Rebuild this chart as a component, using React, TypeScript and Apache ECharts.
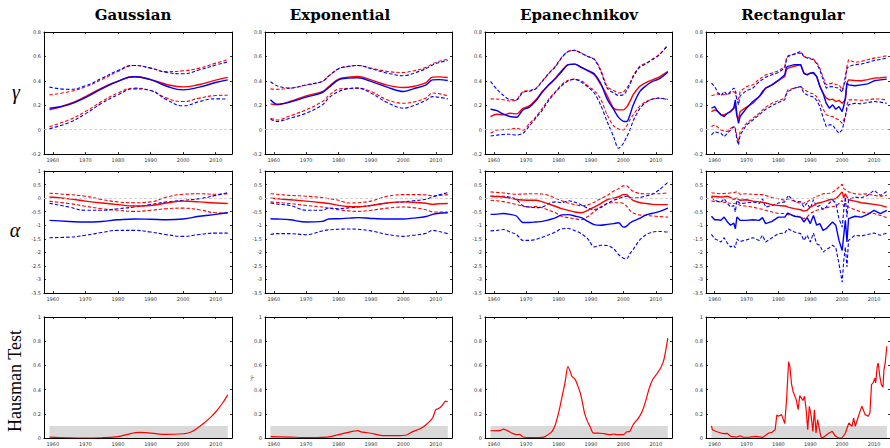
import React, { useEffect, useRef } from "react";
import * as echarts from "echarts";

// ---------- axes ----------
const X_MIN = 1957.3;
const X_MAX = 2015;
const xTicks = [1960, 1970, 1980, 1990, 2000, 2010];
const gammaAxis = { min: -0.2, max: 0.8, interval: 0.2 };
const alphaAxis = { min: -3.5, max: 1, interval: 0.5 };
const hausAxis = { min: 0, max: 1, interval: 0.2 };
const hausBand = 0.1;

const kernelTitles = ["Gaussian", "Exponential", "Epanechnikov", "Rectangular"];
const rowLabels = ["γ", "α", "Hausman Test"];

// ---------- Gaussian ----------
const gaussYears = [1959, 1965, 1970, 1975, 1980, 1985, 1990, 1995, 2000, 2005, 2010, 2013.7];
const gaussGammaRed = [0.162, 0.21, 0.27, 0.34, 0.398, 0.433, 0.41, 0.37, 0.35, 0.37, 0.405, 0.428];
const gaussGammaRedHi = [0.285, 0.31, 0.35, 0.41, 0.477, 0.526, 0.504, 0.475, 0.482, 0.504, 0.545, 0.573];
const gaussGammaRedLo = [0.025, 0.08, 0.148, 0.23, 0.3, 0.34, 0.32, 0.258, 0.23, 0.258, 0.279, 0.282];
const gaussGammaBlue = [0.175, 0.205, 0.263, 0.333, 0.395, 0.433, 0.41, 0.355, 0.326, 0.348, 0.386, 0.408];
const gaussGammaBlueHi = [0.348, 0.33, 0.359, 0.42, 0.485, 0.526, 0.504, 0.468, 0.458, 0.49, 0.529, 0.555];
const gaussGammaBlueLo = [0.008, 0.058, 0.129, 0.216, 0.285, 0.334, 0.32, 0.244, 0.195, 0.23, 0.252, 0.25];

const gaussAlphaRed = [0.04, -0.03, -0.11, -0.18, -0.24, -0.29, -0.27, -0.18, -0.11, -0.14, -0.18, -0.2];
const gaussAlphaRedHi = [0.18, 0.13, 0.07, -0.05, -0.14, -0.17, -0.14, 0.04, 0.14, 0.16, 0.14, 0.16];
const gaussAlphaRedLo = [-0.12, -0.2, -0.3, -0.39, -0.45, -0.49, -0.45, -0.39, -0.37, -0.43, -0.54, -0.55];
const gaussAlphaBlue = [-0.82, -0.86, -0.88, -0.86, -0.8, -0.77, -0.78, -0.8, -0.77, -0.67, -0.6, -0.54];
const gaussAlphaBlueHi = [-0.19, -0.33, -0.45, -0.45, -0.39, -0.33, -0.24, -0.14, -0.08, -0.02, 0.1, 0.2];
const gaussAlphaBlueLo = [-1.46, -1.44, -1.37, -1.27, -1.19, -1.19, -1.25, -1.35, -1.41, -1.34, -1.29, -1.29];

const gaussHausYears = [1959, 1965, 1970, 1975, 1980, 1983, 1986.5, 1990, 1995, 2000, 2002, 2004, 2006, 2008, 2010, 2012, 2013.7];
const gaussHaus = [0.008, 0.002, 0, 0.002, 0.012, 0.03, 0.047, 0.04, 0.03, 0.035, 0.045, 0.075, 0.115, 0.16, 0.215, 0.285, 0.356];

// ---------- Exponential ----------
const expYears = [1959, 1961, 1965, 1970, 1975, 1977, 1980, 1983, 1986, 1990, 1995, 2000, 2003, 2007, 2009, 2011, 2013.7];
const expGammaRed = [0.211, 0.203, 0.23, 0.277, 0.312, 0.353, 0.414, 0.43, 0.436, 0.408, 0.364, 0.345, 0.353, 0.386, 0.43, 0.432, 0.427];
const expGammaRedHi = [0.334, 0.33, 0.34, 0.364, 0.395, 0.44, 0.499, 0.518, 0.526, 0.504, 0.477, 0.468, 0.48, 0.51, 0.54, 0.56, 0.578];
const expGammaRedLo = [0.093, 0.079, 0.112, 0.162, 0.23, 0.28, 0.332, 0.338, 0.34, 0.312, 0.244, 0.216, 0.225, 0.26, 0.3, 0.295, 0.277];
const expGammaBlue = [0.244, 0.208, 0.225, 0.266, 0.304, 0.345, 0.408, 0.422, 0.425, 0.395, 0.348, 0.312, 0.334, 0.367, 0.408, 0.41, 0.403];
const expGammaBlueHi = [0.392, 0.36, 0.34, 0.367, 0.395, 0.44, 0.499, 0.518, 0.526, 0.499, 0.463, 0.441, 0.46, 0.5, 0.53, 0.55, 0.567];
const expGammaBlueLo = [0.085, 0.066, 0.093, 0.134, 0.203, 0.26, 0.312, 0.335, 0.34, 0.299, 0.222, 0.175, 0.195, 0.24, 0.27, 0.265, 0.252];

const expAlphaRed = [0, -0.02, -0.06, -0.11, -0.17, -0.2, -0.27, -0.31, -0.32, -0.27, -0.18, -0.14, -0.15, -0.19, -0.23, -0.21, -0.2];
const expAlphaRedHi = [0.16, 0.14, 0.1, 0.07, 0.02, -0.02, -0.08, -0.18, -0.17, -0.11, 0.07, 0.13, 0.13, 0.12, 0.08, 0.1, 0.13];
const expAlphaRedLo = [-0.14, -0.16, -0.2, -0.27, -0.33, -0.37, -0.43, -0.47, -0.49, -0.45, -0.37, -0.33, -0.35, -0.43, -0.51, -0.51, -0.51];
const expAlphaBlue = [-0.76, -0.77, -0.8, -0.88, -0.86, -0.77, -0.76, -0.74, -0.72, -0.75, -0.77, -0.77, -0.74, -0.68, -0.6, -0.56, -0.54];
const expAlphaBlueHi = [-0.18, -0.22, -0.27, -0.45, -0.45, -0.37, -0.39, -0.36, -0.33, -0.27, -0.18, -0.14, -0.1, -0.04, 0.04, 0.12, 0.2];
const expAlphaBlueLo = [-1.34, -1.31, -1.31, -1.35, -1.21, -1.17, -1.15, -1.14, -1.15, -1.21, -1.34, -1.41, -1.37, -1.3, -1.19, -1.23, -1.31];

const expHausYears = [1959, 1965, 1970, 1975, 1978, 1980, 1983, 1986, 1987, 1990, 1994, 1998, 2001, 2003, 2005, 2007, 2009, 2010, 2011, 2012, 2013, 2013.7];
const expHaus = [0.011, 0.008, 0.003, 0.005, 0.014, 0.028, 0.047, 0.061, 0.05, 0.039, 0.019, 0.019, 0.025, 0.055, 0.074, 0.11, 0.165, 0.235, 0.245, 0.27, 0.305, 0.3];

// ---------- Epanechnikov ----------
const epaYears = [1959, 1961, 1963, 1965, 1967, 1969, 1971, 1973, 1975, 1977, 1979, 1981, 1983, 1985, 1987, 1989, 1991, 1993, 1995, 1997, 1998.5, 2000, 2001, 2002, 2003, 2005, 2007, 2009, 2011, 2013.7];
const epaGammaRed = [0.107, 0.126, 0.121, 0.134, 0.129, 0.175, 0.195, 0.244, 0.312, 0.367, 0.422, 0.485, 0.532, 0.537, 0.51, 0.482, 0.449, 0.37, 0.277, 0.175, 0.162, 0.162, 0.184, 0.23, 0.285, 0.353, 0.386, 0.408, 0.43, 0.477];
const epaGammaRedHi = [0.252, 0.25, 0.245, 0.235, 0.244, 0.312, 0.32, 0.34, 0.4, 0.463, 0.518, 0.595, 0.641, 0.649, 0.627, 0.6, 0.578, 0.49, 0.353, 0.32, 0.3, 0.31, 0.34, 0.38, 0.441, 0.518, 0.545, 0.578, 0.614, 0.688];
const epaGammaRedLo = [-0.03, -0.003, 0, 0.003, 0.011, -0.005, 0.05, 0.105, 0.175, 0.25, 0.31, 0.37, 0.405, 0.414, 0.4, 0.36, 0.32, 0.25, 0.12, 0.03, 0.005, -0.003, 0.03, 0.079, 0.12, 0.19, 0.23, 0.25, 0.258, 0.244];
const epaGammaBlue = [0.167, 0.156, 0.126, 0.107, 0.101, 0.162, 0.184, 0.236, 0.307, 0.367, 0.416, 0.477, 0.532, 0.537, 0.51, 0.485, 0.458, 0.38, 0.25, 0.165, 0.1, 0.068, 0.066, 0.12, 0.2, 0.31, 0.36, 0.395, 0.415, 0.47];
const epaGammaBlueHi = [0.395, 0.33, 0.28, 0.245, 0.244, 0.305, 0.315, 0.335, 0.395, 0.46, 0.515, 0.59, 0.641, 0.649, 0.627, 0.6, 0.575, 0.48, 0.34, 0.3, 0.28, 0.285, 0.32, 0.37, 0.43, 0.51, 0.54, 0.575, 0.61, 0.695];
const epaGammaBlueLo = [-0.052, -0.045, -0.04, -0.038, -0.045, -0.03, 0.03, 0.095, 0.16, 0.24, 0.305, 0.36, 0.4, 0.412, 0.39, 0.35, 0.3, 0.2, 0.065, -0.06, -0.153, -0.112, -0.06, -0.003, 0.07, 0.17, 0.224, 0.25, 0.258, 0.249];

const epaAlphaRed = [0.07, 0.06, 0.04, 0, -0.05, -0.07, -0.08, -0.08, -0.14, -0.22, -0.3, -0.39, -0.45, -0.51, -0.54, -0.45, -0.33, -0.2, -0.06, 0, 0.05, 0.13, 0.13, 0.01, -0.08, -0.16, -0.2, -0.23, -0.24, -0.24];
const epaAlphaRedHi = [0.23, 0.21, 0.19, 0.16, 0.14, 0.15, 0.16, 0.16, 0.15, 0.1, 0, -0.1, -0.18, -0.24, -0.28, -0.25, -0.15, -0.02, 0.1, 0.26, 0.35, 0.45, 0.45, 0.35, 0.25, 0.17, 0.16, 0.16, 0.16, 0.2];
const epaAlphaRedLo = [-0.08, -0.1, -0.13, -0.18, -0.23, -0.3, -0.33, -0.31, -0.36, -0.45, -0.54, -0.67, -0.72, -0.76, -0.8, -0.68, -0.5, -0.33, -0.2, -0.17, -0.17, -0.2, -0.3, -0.45, -0.55, -0.62, -0.64, -0.66, -0.68, -0.7];
const epaAlphaBlue = [-0.6, -0.59, -0.57, -0.6, -0.66, -0.9, -0.9, -0.88, -0.86, -0.8, -0.73, -0.62, -0.61, -0.66, -0.72, -0.86, -0.98, -1.0, -0.97, -0.94, -0.91, -1.07, -1.03, -0.92, -0.85, -0.75, -0.62, -0.56, -0.5, -0.37];
const epaAlphaBlueHi = [0.07, 0.07, 0.07, 0.03, -0.05, -0.28, -0.33, -0.35, -0.33, -0.2, -0.14, -0.17, -0.1, -0.15, -0.25, -0.37, -0.42, -0.35, -0.2, -0.08, -0.02, 0.04, 0.07, 0.02, 0, 0.02, 0.08, 0.15, 0.3, 0.58];
const epaAlphaBlueLo = [-1.21, -1.19, -1.16, -1.25, -1.34, -1.56, -1.56, -1.52, -1.44, -1.35, -1.25, -1.13, -1.12, -1.2, -1.31, -1.5, -1.8, -1.74, -1.75, -1.87, -2.08, -2.22, -2.24, -2.05, -1.9, -1.55, -1.35, -1.25, -1.23, -1.25];

const epaHausYears = [1959, 1962, 1963, 1964, 1966, 1967, 1968, 1969, 1972, 1975, 1976, 1978, 1979, 1980, 1981, 1982, 1982.9, 1983.6, 1984.1, 1985.1, 1985.8, 1986.7, 1987.4, 1988, 1988.7, 1989.7, 1990.8, 1992, 1994, 1996, 1997, 1998, 2000, 2001, 2002, 2003, 2004, 2005, 2006, 2007, 2008, 2009, 2010.5, 2011.5, 2012.5, 2013.7];
const epaHaus = [0.06, 0.063, 0.074, 0.063, 0.036, 0.028, 0.03, 0.008, 0.003, 0.005, 0.015, 0.055, 0.11, 0.207, 0.331, 0.46, 0.59, 0.55, 0.51, 0.485, 0.44, 0.372, 0.289, 0.207, 0.152, 0.096, 0.041, 0.041, 0.036, 0.028, 0.033, 0.028, 0.028, 0.05, 0.055, 0.11, 0.143, 0.179, 0.234, 0.317, 0.413, 0.482, 0.537, 0.579, 0.647, 0.826];

// ---------- Rectangular ----------
const recYears = [1959, 1960, 1961, 1962, 1963, 1964, 1965, 1966, 1966.5, 1967, 1967.5, 1968, 1970, 1972, 1974, 1975, 1976, 1978, 1980, 1982, 1982.5, 1983, 1985, 1987, 1988, 1989, 1990, 1991, 1992, 1993, 1994, 1995, 1996, 1997, 1998, 1999, 2000, 2000.5, 2001, 2001.5, 2002, 2004, 2006, 2008, 2010, 2012, 2014];
const recGammaRed = [0.148, 0.162, 0.15, 0.121, 0.12, 0.134, 0.15, 0.175, 0.2, 0.107, 0.09, 0.148, 0.184, 0.216, 0.271, 0.3, 0.34, 0.367, 0.403, 0.436, 0.49, 0.504, 0.518, 0.532, 0.46, 0.45, 0.463, 0.46, 0.436, 0.36, 0.299, 0.26, 0.244, 0.25, 0.23, 0.24, 0.216, 0.23, 0.244, 0.38, 0.408, 0.403, 0.4, 0.41, 0.422, 0.425, 0.43];
const recGammaRedHi = [0.277, 0.285, 0.293, 0.29, 0.285, 0.29, 0.299, 0.312, 0.3, 0.244, 0.25, 0.312, 0.353, 0.367, 0.414, 0.43, 0.449, 0.463, 0.482, 0.518, 0.58, 0.605, 0.619, 0.627, 0.6, 0.595, 0.585, 0.578, 0.55, 0.504, 0.43, 0.367, 0.375, 0.381, 0.37, 0.367, 0.326, 0.36, 0.395, 0.52, 0.573, 0.551, 0.559, 0.573, 0.586, 0.595, 0.605];
const recGammaRedLo = [0.025, 0.038, 0.02, -0.003, -0.01, -0.016, 0.01, 0.025, 0.01, -0.058, -0.099, -0.016, 0.052, 0.093, 0.134, 0.16, 0.184, 0.216, 0.236, 0.258, 0.3, 0.326, 0.34, 0.353, 0.33, 0.312, 0.3, 0.293, 0.27, 0.23, 0.17, 0.121, 0.11, 0.107, 0.09, 0.079, 0.052, 0.08, 0.107, 0.2, 0.244, 0.244, 0.24, 0.244, 0.252, 0.25, 0.244];
const recGammaBlue = [0.175, 0.189, 0.148, 0.121, 0.107, 0.134, 0.148, 0.175, 0.244, 0.121, 0.052, 0.107, 0.175, 0.23, 0.271, 0.312, 0.34, 0.367, 0.403, 0.449, 0.51, 0.518, 0.532, 0.532, 0.463, 0.449, 0.463, 0.468, 0.436, 0.353, 0.299, 0.216, 0.175, 0.203, 0.167, 0.189, 0.148, 0.195, 0.258, 0.381, 0.367, 0.359, 0.367, 0.375, 0.4, 0.408, 0.414];
const recGammaBlueHi = [0.381, 0.353, 0.304, 0.277, 0.312, 0.285, 0.312, 0.34, 0.33, 0.244, 0.203, 0.277, 0.32, 0.34, 0.395, 0.41, 0.43, 0.449, 0.468, 0.504, 0.57, 0.6, 0.62, 0.641, 0.6, 0.586, 0.58, 0.573, 0.54, 0.49, 0.41, 0.34, 0.35, 0.353, 0.345, 0.34, 0.304, 0.36, 0.436, 0.5, 0.518, 0.532, 0.537, 0.551, 0.567, 0.575, 0.586];
const recGammaBlueLo = [-0.044, -0.016, -0.025, -0.03, -0.058, -0.03, -0.003, 0.025, 0, -0.085, -0.126, -0.044, 0.038, 0.079, 0.121, 0.145, 0.167, 0.197, 0.222, 0.244, 0.29, 0.312, 0.34, 0.353, 0.3, 0.285, 0.275, 0.266, 0.24, 0.189, 0.1, 0.025, 0.04, 0.038, 0, -0.03, -0.003, 0.05, 0.107, 0.17, 0.203, 0.216, 0.211, 0.222, 0.23, 0.225, 0.216];

const recAlphaRed = [0.07, 0.06, 0.05, 0.04, 0.05, 0.07, 0.02, -0.05, -0.02, 0, -0.05, -0.08, -0.06, -0.11, -0.14, -0.15, -0.18, -0.24, -0.27, -0.29, -0.3, -0.33, -0.39, -0.43, -0.48, -0.45, -0.33, -0.28, -0.2, -0.17, -0.14, -0.1, -0.06, -0.04, -0.02, 0.1, 0.23, 0.01, 0.16, 0.05, -0.06, -0.11, -0.17, -0.2, -0.23, -0.27, -0.33];
const recAlphaRedHi = [0.2, 0.18, 0.17, 0.16, 0.17, 0.18, 0.19, 0.2, 0.22, 0.23, 0.2, 0.14, 0.16, 0.14, 0.13, 0.13, 0.1, 0.02, -0.02, -0.08, -0.05, -0.02, -0.11, -0.2, -0.18, -0.14, -0.06, 0, 0.07, 0.1, 0.16, 0.17, 0.18, 0.22, 0.29, 0.41, 0.51, 0.35, 0.31, 0.28, 0.23, 0.16, 0.14, 0.16, 0.1, 0.07, 0.1];
const recAlphaRedLo = [-0.11, -0.12, -0.13, -0.14, -0.15, -0.18, -0.19, -0.2, -0.19, -0.17, -0.22, -0.27, -0.3, -0.33, -0.39, -0.41, -0.45, -0.51, -0.57, -0.57, -0.58, -0.61, -0.64, -0.7, -0.76, -0.7, -0.57, -0.5, -0.45, -0.42, -0.39, -0.36, -0.33, -0.31, -0.3, -0.2, -0.08, -0.33, -0.18, -0.3, -0.33, -0.43, -0.51, -0.55, -0.57, -0.64, -0.72];
const recAlphaBlue = [-0.67, -0.8, -0.8, -0.82, -0.7, -0.88, -1.0, -0.92, -1.13, -0.7, -0.75, -0.82, -0.82, -0.8, -0.82, -0.72, -0.94, -0.86, -0.7, -0.7, -0.62, -0.55, -0.67, -0.7, -0.88, -0.72, -0.94, -0.64, -1.0, -0.94, -1.19, -1.13, -1.0, -0.88, -1.0, -1.56, -1.93, -1.37, -0.82, -1.62, -0.76, -0.67, -0.7, -0.6, -0.45, -0.57, -0.45];
const recAlphaBlueHi = [0.04, -0.08, -0.12, -0.14, -0.02, -0.2, -0.33, -0.27, -0.51, -0.08, -0.15, -0.2, -0.18, -0.14, -0.2, -0.02, -0.33, -0.27, -0.18, -0.14, -0.05, 0.1, -0.11, -0.14, -0.33, -0.18, -0.39, -0.06, -0.33, -0.27, -0.43, -0.33, -0.18, -0.08, -0.18, -0.76, -1.07, -0.45, 0.04, -0.7, -0.06, 0.04, 0.01, 0.1, 0.29, 0.1, 0.25];
const recAlphaBlueLo = [-1.34, -1.5, -1.55, -1.62, -1.46, -1.66, -1.8, -1.74, -1.83, -1.5, -1.56, -1.6, -1.54, -1.46, -1.56, -1.37, -1.62, -1.46, -1.31, -1.29, -1.2, -1.13, -1.25, -1.31, -1.56, -1.37, -1.62, -1.29, -1.68, -1.74, -1.99, -1.9, -1.83, -1.74, -1.83, -2.42, -3.1, -2.3, -1.8, -2.54, -1.56, -1.37, -1.4, -1.34, -1.29, -1.37, -1.29];

const recHausYears = [1959, 1959.3, 1960, 1961, 1962, 1963, 1964, 1965, 1967, 1968, 1969, 1971, 1973, 1975, 1976, 1977, 1978, 1979, 1979.5, 1980, 1981, 1982, 1982.6, 1983.2, 1983.6, 1984.1, 1984.6, 1985.6, 1986.2, 1986.7, 1987.7, 1988.2, 1988.7, 1989.2, 1989.7, 1990.3, 1990.8, 1991.3, 1991.8, 1992.3, 1993.3, 1993.8, 1995.9, 1996.9, 1997.9, 1999, 2000, 2001, 2002.1, 2003.1, 2003.6, 2004.1, 2004.6, 2005.6, 2006.2, 2007.2, 2008.2, 2008.7, 2009.2, 2009.7, 2010.3, 2010.5, 2011, 2011.3, 2011.8, 2012.3, 2012.8, 2013.1, 2013.5, 2014];
const recHaus = [0.1, 0.069, 0.06, 0.05, 0.041, 0.036, 0.038, 0.014, 0.008, 0.019, 0.006, 0.008, 0.014, 0.005, 0.022, 0.041, 0.047, 0.069, 0.19, 0.18, 0.193, 0.12, 0.33, 0.63, 0.59, 0.45, 0.385, 0.317, 0.234, 0.35, 0.31, 0.345, 0.234, 0.069, 0.262, 0.179, 0.055, 0.234, 0.041, 0.152, 0.014, 0, 0.041, 0.055, 0.014, 0, 0, 0.041, 0.124, 0.096, 0.165, 0.096, 0.138, 0.22, 0.262, 0.193, 0.179, 0.207, 0.441, 0.455, 0.496, 0.455, 0.592, 0.62, 0.51, 0.441, 0.42, 0.565, 0.62, 0.758];

// ---------- layout ----------
const colLeft = [44, 265, 485, 706];
const colWidth = [188, 187, 187, 187];
const rowTop = [32, 171, 317];
const rowHeight = [122, 122, 121];
const titleX = [133, 340, 579, 793];

const RED = "#ff0000";
const BLUE = "#0000ff";

type BandPanel = {
  kind: "band";
  years: number[];
  red: number[];
  redHi: number[];
  redLo: number[];
  blue: number[];
  blueHi: number[];
  blueLo: number[];
  smooth: number | boolean;
};
type HausPanel = { kind: "haus"; years: number[]; values: number[]; smooth: number | boolean };

const panels: (BandPanel | HausPanel)[][] = [
  [
    { kind: "band", years: gaussYears, red: gaussGammaRed, redHi: gaussGammaRedHi, redLo: gaussGammaRedLo, blue: gaussGammaBlue, blueHi: gaussGammaBlueHi, blueLo: gaussGammaBlueLo, smooth: 0.5 },
    { kind: "band", years: expYears, red: expGammaRed, redHi: expGammaRedHi, redLo: expGammaRedLo, blue: expGammaBlue, blueHi: expGammaBlueHi, blueLo: expGammaBlueLo, smooth: 0.35 },
    { kind: "band", years: epaYears, red: epaGammaRed, redHi: epaGammaRedHi, redLo: epaGammaRedLo, blue: epaGammaBlue, blueHi: epaGammaBlueHi, blueLo: epaGammaBlueLo, smooth: 0.3 },
    { kind: "band", years: recYears, red: recGammaRed, redHi: recGammaRedHi, redLo: recGammaRedLo, blue: recGammaBlue, blueHi: recGammaBlueHi, blueLo: recGammaBlueLo, smooth: false },
  ],
  [
    { kind: "band", years: gaussYears, red: gaussAlphaRed, redHi: gaussAlphaRedHi, redLo: gaussAlphaRedLo, blue: gaussAlphaBlue, blueHi: gaussAlphaBlueHi, blueLo: gaussAlphaBlueLo, smooth: 0.5 },
    { kind: "band", years: expYears, red: expAlphaRed, redHi: expAlphaRedHi, redLo: expAlphaRedLo, blue: expAlphaBlue, blueHi: expAlphaBlueHi, blueLo: expAlphaBlueLo, smooth: 0.35 },
    { kind: "band", years: epaYears, red: epaAlphaRed, redHi: epaAlphaRedHi, redLo: epaAlphaRedLo, blue: epaAlphaBlue, blueHi: epaAlphaBlueHi, blueLo: epaAlphaBlueLo, smooth: 0.3 },
    { kind: "band", years: recYears, red: recAlphaRed, redHi: recAlphaRedHi, redLo: recAlphaRedLo, blue: recAlphaBlue, blueHi: recAlphaBlueHi, blueLo: recAlphaBlueLo, smooth: false },
  ],
  [
    { kind: "haus", years: gaussHausYears, values: gaussHaus, smooth: 0.5 },
    { kind: "haus", years: expHausYears, values: expHaus, smooth: 0.2 },
    { kind: "haus", years: epaHausYears, values: epaHaus, smooth: 0.3 },
    { kind: "haus", years: recHausYears, values: recHaus, smooth: false },
  ],
];

const zip = (xs: number[], ys: number[]) => xs.map((x, i) => [x, ys[i]]);

const tickLabel = { fontSize: 5, color: "#333", fontFamily: "DejaVu Sans" };

function buildOption() {
  const grid: any[] = [];
  const xAxis: any[] = [];
  const yAxis: any[] = [];
  const series: any[] = [];
  const yRanges = [gammaAxis, alphaAxis, hausAxis];

  panels.forEach((row, r) => {
    row.forEach((p, c) => {
      const gi = grid.length;
      grid.push({ left: colLeft[c], top: rowTop[r], width: colWidth[c], height: rowHeight[r], containLabel: false });
      const axisLine = { show: true, onZero: false, lineStyle: { color: "#000", width: 1 } };
      const xTick = { show: true, inside: true, length: 2, customValues: xTicks, lineStyle: { color: "#000", width: 0.8 } };
      xAxis.push({
        gridIndex: gi, type: "value", position: "bottom", min: X_MIN, max: X_MAX,
        axisLine, axisTick: xTick,
        axisLabel: { show: true, customValues: xTicks, margin: 3, formatter: (v: number) => String(v), ...tickLabel },
        splitLine: { show: false },
      });
      xAxis.push({
        gridIndex: gi, type: "value", position: "top", min: X_MIN, max: X_MAX,
        axisLine, axisTick: xTick, axisLabel: { show: false }, splitLine: { show: false },
      });
      const yr = yRanges[r];
      const yTick = { show: true, inside: true, length: 2, lineStyle: { color: "#000", width: 0.8 } };
      yAxis.push({
        gridIndex: gi, type: "value", position: "left", min: yr.min, max: yr.max, interval: yr.interval,
        axisLine, axisTick: yTick, axisLabel: { show: true, margin: 3, ...tickLabel }, splitLine: { show: false },
      });
      yAxis.push({
        gridIndex: gi, type: "value", position: "right", min: yr.min, max: yr.max, interval: yr.interval,
        axisLine, axisTick: yTick, axisLabel: { show: false }, splitLine: { show: false },
      });
      const xi = gi * 2;
      const yi = gi * 2;
      const base = { type: "line", xAxisIndex: xi, yAxisIndex: yi, showSymbol: false, symbol: "none", silent: true };
      if (p.kind === "band") {
        const dashed = (data: number[], color: string) => ({
          ...base, smooth: p.smooth, data: zip(p.years, data),
          lineStyle: { color, width: 1.1, type: [3.5, 2] },
        });
        const solid = (data: number[], color: string) => ({
          ...base, smooth: p.smooth, data: zip(p.years, data),
          lineStyle: { color, width: 1.4 },
        });
        series.push({
          ...dashed(p.redHi, RED),
          markLine: {
            silent: true, symbol: ["none", "none"], label: { show: false },
            lineStyle: { color: "#c8c8c8", type: [3, 2], width: 0.8 },
            data: [{ yAxis: 0 }],
          },
        });
        series.push(dashed(p.redLo, RED));
        series.push(dashed(p.blueHi, BLUE));
        series.push(dashed(p.blueLo, BLUE));
        series.push(solid(p.red, RED));
        series.push(solid(p.blue, BLUE));
      } else {
        const x0 = p.years[0];
        const x1 = p.years[p.years.length - 1];
        series.push({
          ...base, smooth: p.smooth, data: zip(p.years, p.values),
          lineStyle: { color: RED, width: 1.2 },
          markArea: {
            silent: true,
            itemStyle: { color: "#d9d9d9" },
            data: [[{ xAxis: x0, yAxis: 0 }, { xAxis: x1, yAxis: hausBand }]],
          },
        });
      }
    });
  });

  const graphic: any[] = [];
  kernelTitles.forEach((t, i) => {
    graphic.push({
      type: "text", x: titleX[i], y: 15, silent: true,
      style: { text: t, fontSize: 15, fontWeight: "bold", fontFamily: "DejaVu Serif", fill: "#000", textAlign: "center", textVerticalAlign: "middle", align: "center", verticalAlign: "middle" },
    });
  });
  graphic.push({
    type: "text", x: 16, y: 92, silent: true,
    style: { text: rowLabels[0], fontSize: 20, fontStyle: "italic", fontFamily: "Liberation Serif", fill: "#000", textAlign: "center", textVerticalAlign: "middle", align: "center", verticalAlign: "middle" },
  });
  graphic.push({
    type: "text", x: 15, y: 230, silent: true,
    style: { text: rowLabels[1], fontSize: 20, fontStyle: "italic", fontFamily: "Liberation Serif", fill: "#000", textAlign: "center", textVerticalAlign: "middle", align: "center", verticalAlign: "middle" },
  });
  graphic.push({
    type: "text", x: 15, y: 381, rotation: Math.PI / 2, silent: true,
    style: { text: rowLabels[2], fontSize: 18, fontFamily: "Liberation Serif", fill: "#000", textAlign: "center", textVerticalAlign: "middle", align: "center", verticalAlign: "middle" },
  });
  graphic.push({
    type: "text", x: 251, y: 378, rotation: Math.PI / 2, silent: true,
    style: { text: "Hp", fontSize: 4, fontFamily: "DejaVu Sans", fill: "#444", textAlign: "center", textVerticalAlign: "middle", align: "center", verticalAlign: "middle" },
  });

  return {
    animation: false,
    backgroundColor: "#ffffff",
    grid, xAxis, yAxis, series, graphic,
  };
}

export default function App() {
  const ref = useRef<HTMLDivElement>(null);
  useEffect(() => {
    if (!ref.current) return;
    const chart = echarts.init(ref.current, null, { renderer: "svg" });
    chart.setOption(buildOption() as any);
    return () => chart.dispose();
  }, []);
  return <div ref={ref} style={{ position: "absolute", left: 0, top: 0, width: 890, height: 448 }} />;
}
